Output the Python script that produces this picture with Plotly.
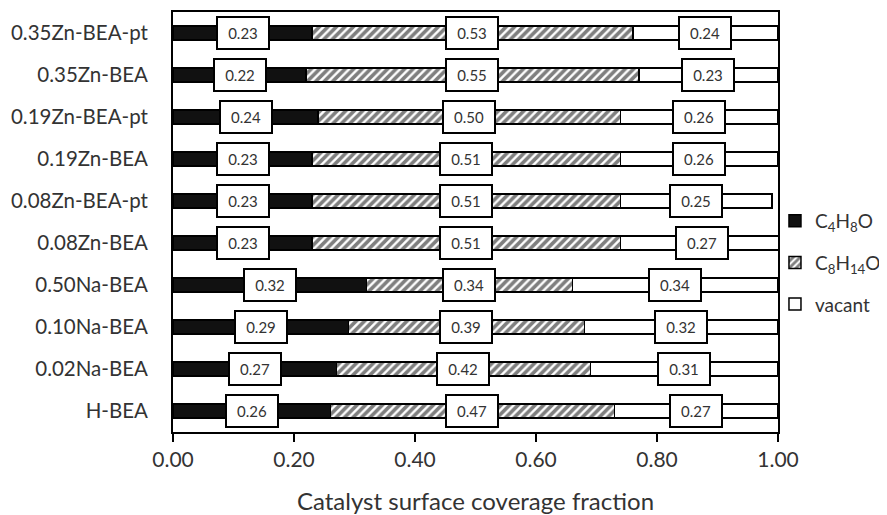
import plotly.graph_objects as go

# categories listed bottom -> top
catalysts = ["H-BEA", "0.02Na-BEA", "0.10Na-BEA", "0.50Na-BEA", "0.08Zn-BEA",
             "0.08Zn-BEA-pt", "0.19Zn-BEA", "0.19Zn-BEA-pt", "0.35Zn-BEA", "0.35Zn-BEA-pt"]
c4h8o = [0.26, 0.27, 0.29, 0.32, 0.23, 0.23, 0.23, 0.24, 0.22, 0.23]
c8h14o = [0.47, 0.42, 0.39, 0.34, 0.51, 0.51, 0.51, 0.50, 0.55, 0.53]
vacant = [0.27, 0.31, 0.32, 0.34, 0.27, 0.25, 0.26, 0.26, 0.23, 0.24]

FONT = "Lato, 'Open Sans', sans-serif"
TXT = "#333333"

fig = go.Figure()
fig.add_trace(go.Bar(
    y=catalysts, x=c4h8o, orientation="h", name="C<sub>4</sub>H<sub>8</sub>O",
    legendgroup="a", marker=dict(color="#111111", line=dict(color="black", width=1.5))
))
fig.add_trace(go.Bar(
    y=catalysts, x=c8h14o, orientation="h", name="C<sub>8</sub>H<sub>14</sub>O",
    legendgroup="b",
    marker=dict(color="white", line=dict(color="black", width=1.5),
                pattern=dict(shape="/", fgcolor="black", bgcolor="white",
                             size=6, solidity=0.6))
))
fig.add_trace(go.Bar(
    y=catalysts, x=vacant, orientation="h", name="vacant",
    legendgroup="c", marker=dict(color="white", line=dict(color="black", width=1.5))
))

# boxed value labels at the middle of each segment
for i, cat in enumerate(catalysts):
    start = 0
    for vals in (c4h8o, c8h14o, vacant):
        v = vals[i]
        fig.add_annotation(
            x=start + v / 2, y=cat, text=f"{v:.2f}", showarrow=False,
            font=dict(size=15, color=TXT, family=FONT),
            bgcolor="white", bordercolor="black", borderwidth=2,
            width=48, height=28, xref="x", yref="y"
        )
        start += v

# page body has an 8px margin, so the figure is sized 8px smaller
fig.update_layout(
    barmode="stack", bargap=0.67,
    width=879, height=507,
    margin=dict(l=165, r=109, t=4, b=83, autoexpand=False),
    plot_bgcolor="white", paper_bgcolor="white",
    font=dict(family=FONT, size=20, color=TXT),
    legend=dict(x=0.995, y=0.548, xanchor="left", yanchor="top",
                bgcolor="rgba(0,0,0,0)",
                traceorder="grouped", tracegroupgap=14,
                font=dict(size=19), itemwidth=30),
    xaxis=dict(range=[0, 1], tickvals=[0, 0.2, 0.4, 0.6, 0.8, 1.0], tickformat=".2f",
               ticks="outside", ticklen=8, tickwidth=2, tickcolor="black",
               showline=True, linecolor="black", linewidth=2, mirror=True,
               showgrid=False, zeroline=False, automargin=False,
               tickfont=dict(size=21),
               title=dict(text="Catalyst surface coverage fraction", font=dict(size=24), standoff=24)),
    yaxis=dict(showline=True, linecolor="black", linewidth=2, mirror=True,
               showgrid=False, ticks="", ticklabelstandoff=19, automargin=False,
               tickfont=dict(size=20.5)),
)

fig.write_html("out.html")
